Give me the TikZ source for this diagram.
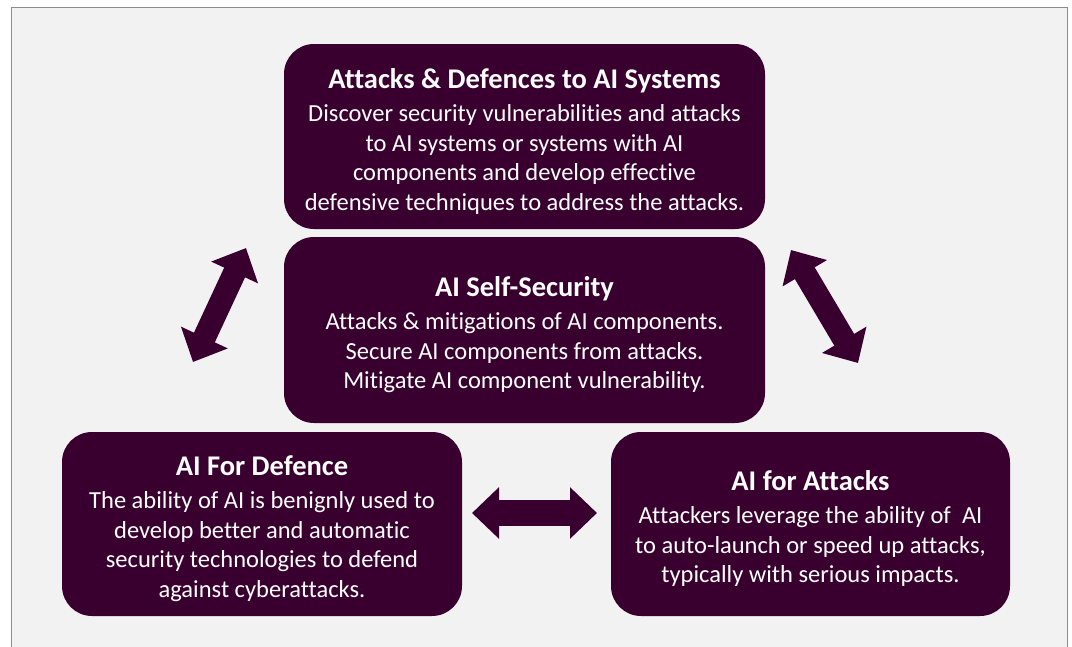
\documentclass[tikz,border=0pt]{standalone}
\usepackage{fontspec}
\setmainfont{Carlito}[Ligatures={NoCommon}]
\usepackage{tikz}
\usetikzlibrary{arrows.meta}
\usepackage{xcolor}
\definecolor{aipurple}{HTML}{39002F}
\definecolor{panelgray}{HTML}{F2F2F2}
\definecolor{panelborder}{HTML}{8C8C8C}
\tikzset{
  aibox/.style={rounded corners=30pt, fill=aipurple, text=white, align=center,
    inner sep=0pt, font=\fontsize{24.5}{29.5}\selectfont},
  aiarrow/.style={draw=aipurple, line width=23pt,
    {Triangle[width=50pt,length=27pt]}-{Triangle[width=50pt,length=27pt]}}
}
\newcommand\boxtitle[1]{{\bfseries\fontsize{28.5}{29.5}\selectfont\rule{0pt}{29pt}#1}\\[4pt]}

\begin{document}
\begin{tikzpicture}[x=1pt, y=-1pt]
    \useasboundingbox (0,0) rectangle (1072,646);
    \fill[white] (0,0) rectangle (1072,646);
    \draw[panelborder, fill=panelgray, line width=1.5pt] (11.5,7.5) rectangle (1067.5,670);

    \node[aibox, minimum width=481pt, minimum height=185pt] (attdef) at (524.5,136.5)
      {\boxtitle{Attacks \& Defences to AI Systems}
       Discover security vulnerabilities and attacks\\
       to AI systems or systems with AI\\
       components and develop effective\\
       defensive techniques to address the attacks.};
    \node[aibox, minimum width=481pt, minimum height=186pt] (selfsec) at (524.5,330)
      {\boxtitle{AI Self-Security}
       Attacks \& mitigations of AI components.\\
       Secure AI components from attacks.\\
       Mitigate AI component vulnerability.};
    \node[aibox, minimum width=400pt, minimum height=184pt] (fordef) at (262,524)
      {\boxtitle{AI For Defence}
       The ability of AI is benignly used to\\
       develop better and automatic\\
       security technologies to defend\\
       against cyberattacks.};
    \node[aibox, minimum width=399pt, minimum height=184pt] (foratt) at (810.5,524)
      {\boxtitle{AI for Attacks}
       Attackers leverage the ability of\ \ AI\\
       to auto-launch or speed up attacks,\\
       typically with serious impacts.};

    \coordinate (leftlow) at (193,362);
    \coordinate (lefthigh) at (246,248);
    \coordinate (righthigh) at (791,250);
    \coordinate (rightlow) at (858,363);
    \coordinate (midleft) at (472,513);
    \coordinate (midright) at (597,513);

    \draw[aiarrow] (leftlow) -- (lefthigh);
    \draw[aiarrow] (righthigh) -- (rightlow);
    \draw[aiarrow, line width=26pt] (midleft) -- (midright);
\end{tikzpicture}
\end{document}
